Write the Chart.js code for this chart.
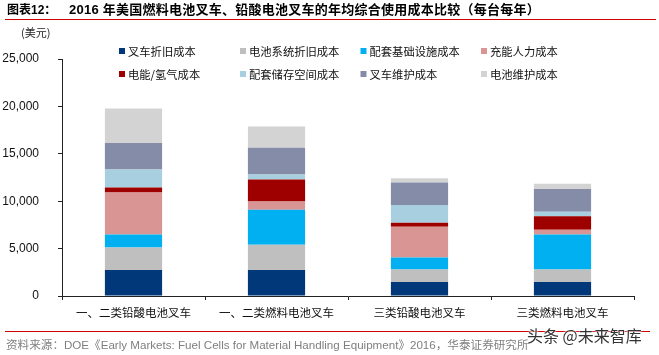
<!DOCTYPE html>
<html>
<head>
<meta charset="utf-8">
<script src="https://cdn.jsdelivr.net/npm/chart.js@4/dist/chart.umd.min.js"></script>
<style>
  html, body { margin: 0; padding: 0; background: #fff; }
  body { width: 659px; height: 355px; position: relative; overflow: hidden;
         font-family: "Liberation Sans", "Noto Sans CJK SC", sans-serif; }
  #wrap { position: absolute; left: 0; top: 0; width: 659px; height: 355px; }
  .abs { position: absolute; white-space: nowrap; line-height: 1; }
  .t1 { left: 7px; top: 4px; font-size: 12px; font-weight: bold; color: #000; }
  .t2 { left: 69px; top: 3px; font-size: 13px; font-weight: bold; color: #000; letter-spacing: 0.25px; }
  .line { position: absolute; height: 1px; background: #d00000; }
  .unit { left: 21px; top: 27px; font-size: 11px; color: #222; font-family: "Noto Sans CJK SC", sans-serif; }
  .src { left: 6px; top: 339px; font-size: 11.6px; color: #7f7f7f; }
  .wm { left: 527px; top: 327px; font-size: 16px; color: #333;
        text-shadow: 0 0 2px #fff, 0 0 2px #fff, 0 0 3px #fff; font-family: "Noto Sans CJK SC", sans-serif; }
</style>
</head>
<body>
<div id="wrap"><canvas id="c"></canvas></div>
<div class="abs t1">图表12：</div>
<div class="abs t2">2016 年美国燃料电池叉车、铅酸电池叉车的年均综合使用成本比较（每台每年）</div>
<div class="line" style="left:5px; top:19px; width:651px;"></div>
<div class="abs unit">(美元)</div>
<div class="line" style="left:5px; top:331px; width:645px;"></div>
<div class="abs src">资料来源：DOE《Early Markets: Fuel Cells for Material Handling Equipment》2016，华泰证券研究所</div>
<div class="abs wm">头条 @未来智库</div>
<script>
// Categories
const categories = ["一、二类铅酸电池叉车", "一、二类燃料电池叉车", "三类铅酸电池叉车", "三类燃料电池叉车"];
// Series (USD per unit per year)
const forkliftDepreciation = [2750, 2750, 1480, 1480];   // 叉车折旧成本
const batteryDepreciation  = [2370, 2650, 1310, 1310];   // 电池系统折旧成本
const infrastructure       = [1370, 3710, 1270, 3700];   // 配套基础设施成本
const chargingLabor        = [4420, 850, 3250, 500];     // 充能人力成本
const energyHydrogen       = [530, 2330, 420, 1410];     // 电能/氢气成本
const storageSpace         = [1910, 530, 1880, 500];     // 配套储存空间成本
const forkliftMaintenance  = [2780, 2830, 2360, 2400];   // 叉车维护成本
const batteryMaintenance   = [3650, 2220, 460, 530];     // 电池维护成本
// Tick labels
const yTicks = [0, 5000, 10000, 15000, 20000, 25000];

const seriesLabels = ["叉车折旧成本", "电池系统折旧成本", "配套基础设施成本", "充能人力成本",
                      "电能/氢气成本", "配套储存空间成本", "叉车维护成本", "电池维护成本"];
const seriesData = [forkliftDepreciation, batteryDepreciation, infrastructure, chargingLabor,
                    energyHydrogen, storageSpace, forkliftMaintenance, batteryMaintenance];
const seriesColors = ["#00387a", "#bfbfbf", "#00b0f0", "#d99594",
                      "#9e0000", "#a8cfe0", "#858ca8", "#d3d3d3"];

const legendPlugin = {
  id: 'gridLegend',
  afterDraw(chart) {
    const ctx = chart.ctx;
    const colX = [119, 240, 360.5, 481];
    const rowY = [51, 74];
    ctx.save();
    ctx.font = '11.3px "Noto Sans CJK SC", sans-serif';
    ctx.textBaseline = 'middle';
    ctx.textAlign = 'left';
    chart.data.datasets.forEach((ds, i) => {
      const x = colX[i % 4], y = rowY[Math.floor(i / 4)];
      ctx.fillStyle = ds.backgroundColor;
      ctx.fillRect(x, y - 3, 6, 6);
      ctx.fillStyle = '#111';
      ctx.fillText(ds.label, x + 9, y + 0.5);
    });
    ctx.restore();
  }
};

new Chart(document.getElementById('c'), {
  type: 'bar',
  data: {
    labels: categories,
    datasets: seriesData.map((d, i) => ({
      label: seriesLabels[i],
      data: d,
      backgroundColor: seriesColors[i],
      borderWidth: 0,
      barPercentage: 0.4,
      categoryPercentage: 1.0
    }))
  },
  options: {
    responsive: true,
    maintainAspectRatio: false,
    animation: false,
    layout: { padding: { top: 59, right: 25, left: 0, bottom: 0 } },
    plugins: { legend: { display: false }, tooltip: { enabled: false }, title: { display: false } },
    scales: {
      x: {
        stacked: true,
        afterFit(scale) { scale.height = 59; },
        grid: { drawOnChartArea: false, offset: true, tickLength: 4, color: '#222' },
        border: { color: '#222', width: 1 },
        ticks: { padding: 6, color: '#111', font: { family: '"Noto Sans CJK SC", sans-serif', size: 11.5 } }
      },
      y: {
        stacked: true,
        min: 0,
        max: 25000,
        afterFit(scale) { scale.width = 62; },
        afterBuildTicks(scale) { scale.ticks = yTicks.map(v => ({ value: v })); },
        grid: { drawOnChartArea: false, tickLength: 4, color: '#222' },
        border: { color: '#222', width: 1 },
        ticks: {
          padding: 19,
          color: '#111',
          font: { family: '"Liberation Sans", Arial, sans-serif', size: 12 },
          callback: v => Number(v).toLocaleString('en-US')
        }
      }
    }
  },
  plugins: [legendPlugin]
});
</script>
</body>
</html>
